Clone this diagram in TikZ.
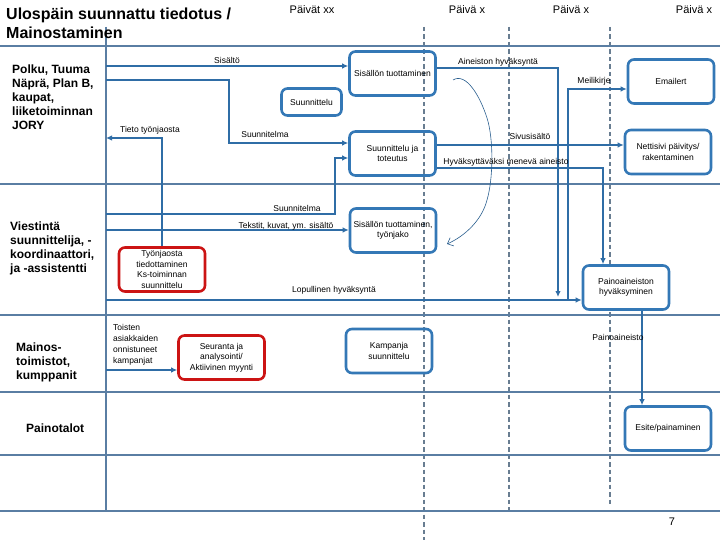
\documentclass[tikz,border=0pt]{standalone}
\usepackage{fontspec}
\setmainfont{Liberation Sans}
\usetikzlibrary{arrows.meta,calc}
\definecolor{laneblue}{HTML}{5A7EA3}
\definecolor{boxblue}{HTML}{3478B6}
\definecolor{connblue}{HTML}{2F6DA6}
\definecolor{dashgray}{HTML}{687D91}
\definecolor{boxred}{HTML}{CC1414}
\definecolor{curveblue}{HTML}{2A5F8F}
\begin{document}
\begin{tikzpicture}[x=1pt,y=-1pt,
  lane/.style={draw=laneblue,line width=1.6pt},
  dline/.style={draw=dashgray,line width=1.6pt,dash pattern=on 4.5pt off 3pt},
  box/.style={draw=boxblue,line width=2.6pt,rounded corners=6pt,minimum width=86pt,minimum height=44pt,inner sep=1pt,align=center,font=\fontsize{8.5}{10.5}\selectfont},
  rbox/.style={box,draw=boxred},
  conn/.style={draw=connblue,line width=1.5pt,-{Latex[length=6pt,width=5.5pt]}},
  lbl/.style={font=\fontsize{8.5}{11}\selectfont,inner sep=0pt},
  hdr/.style={font=\fontsize{11}{13}\selectfont,inner sep=0pt},
  lanelbl/.style={font=\fontsize{12}{14}\selectfont\bfseries,align=left,anchor=west,inner sep=0pt},
  titlelbl/.style={font=\fontsize{16}{19}\selectfont\bfseries,align=left,anchor=west,inner sep=0pt}
]
\useasboundingbox (0,0) rectangle (720,540);
\fill[white] (0,0) rectangle (720,540);

% dashed day separators
\draw[dline] (424,27) -- (424,540);
\draw[dline] (509,27) -- (509,512);
\draw[dline] (610,27) -- (610,507);

% lanes
\foreach \yy in {46,184,315,392,455,511} {\draw[lane] (0,\yy) -- (720,\yy);}
\draw[lane] (106,27) -- (106,511);

% titles and headers
\node[titlelbl] (title) at (6,23.5) {Ulospäin suunnattu tiedotus /\\Mainostaminen};
\node[hdr] (h1) at (312,10) {Päivät xx};
\node[hdr] (h2) at (467,10) {Päivä x};
\node[hdr] (h3) at (571,10) {Päivä x};
\node[hdr] (h4) at (694,10) {Päivä x};

\node[lanelbl] (lane1) at (12,97.5) {Polku, Tuuma\\Näprä, Plan B,\\kaupat,\\liiketoiminnan\\JORY};
\node[lanelbl] (lane2) at (10,248) {Viestintä\\suunnittelija, -\\koordinaattori,\\ja -assistentti};
\node[lanelbl] (lane3) at (16,362.5) {Mainos-\\toimistot,\\kumppanit};
\node[lanelbl] (lane4) at (26,428) {Painotalot};

% boxes
\node[box] (st1) at (392.5,73.5) {Sisällön tuottaminen};
\node[box,minimum width=60pt,minimum height=27pt] (suun) at (311.5,102) {Suunnittelu};
\node[box] (sjt) at (392.5,153.5) {Suunnittelu ja\\toteutus};
\node[box] (email) at (671,81.5) {Emailert};
\node[box] (netti) at (668,152) {Nettisivi päivitys/\\rakentaminen};
\node[box] (st2) at (393,230.5) {Sisällön tuottaminen,\\työnjako};
\node[rbox] (tyo) at (162,269.5) {Työnjaosta\\tiedottaminen\\Ks-toiminnan\\suunnittelu};
\node[box,fill=white] (paino) at (626,287.5) {Painoaineiston\\hyväksyminen};
\node[rbox] (seur) at (221.5,357.5) {Seuranta ja\\analysointi/\\Aktiivinen myynti};
\node[box] (kamp) at (389,351) {Kampanja\\suunnittelu};
\node[box] (esite) at (668,428.5) {Esite/painaminen};

% lane coordinates
\coordinate (L66) at (106,66);
\coordinate (L80) at (106,80);
\coordinate (L138) at (106,138);
\coordinate (L214) at (106,214);
\coordinate (L230) at (106,230);
\coordinate (L300) at (106,300);
\coordinate (L370) at (106,370);
\coordinate (b1) at (229,80);
\coordinate (b2) at (229,143);
\coordinate (b3) at (162,138);
\coordinate (b4) at (335,214);
\coordinate (b5) at (335,158);
\coordinate (b6) at (558,68);
\coordinate (e1) at (558,297);
\coordinate (b7) at (568,300);
\coordinate (b8) at (568,89);
\coordinate (b9) at (500,145);
\coordinate (b10) at (603,168);
\coordinate (b11) at (642,0);

% connectors
\draw[conn] (L66) -- (L66 -| st1.west);
\draw[conn] (L80) -- (b1) -- (b2) -- (b2 -| sjt.west);
\draw[conn] (tyo.north) -- (b3) -- (L138);
\draw[conn] (L214) -- (b4) -- (b5) -- (b5 -| sjt.west);
\draw[conn] (L230) -- (L230 -| st2.west);
\draw[conn] (L300) -- (L300 -| paino.west);
\draw[conn] (b6 -| st1.east) -- (b6) -- (e1);
\draw[conn] (b7) -- (b8) -- (b8 -| email.west);
\draw[conn] (b9 -| sjt.east) -- (b9 -| netti.west);
\draw[conn] (b10 -| sjt.east) -- (b10) -- (b10 |- paino.north);
\draw[conn] (b11 |- paino.south) -- (b11 |- esite.north);
\draw[conn] (L370) -- (L370 -| seur.west);

% freehand curve
\draw[curveblue,line width=0.6pt,-{Straight Barb[length=5pt,width=9pt]}]
  (453,80) .. controls (466,72) and (480,96) .. (487,118)
  .. controls (494,140) and (493,180) .. (487,200)
  .. controls (482,220) and (465,236) .. (447,244);

% labels
\node[lbl] (t1) at (227,60) {Sisältö};
\node[lbl] (t2) at (150,130) {Tieto työnjaosta};
\node[lbl] (t3) at (265,134) {Suunnitelma};
\node[lbl] (t4) at (498,62) {Aineiston hyväksyntä};
\node[lbl] (t5) at (594,81) {Meilikirje};
\node[lbl] (t6) at (530,136) {Sivusisältö};
\node[lbl] (t7) at (506,162) {Hyväksyttäväksi menevä aineisto};
\node[lbl] (t8) at (297,208) {Suunnitelma};
\node[lbl] (t9) at (286,226) {Tekstit, kuvat, ym. sisältö};
\node[lbl] (t10) at (334,290) {Lopullinen hyväksyntä};
\node[lbl,align=left,anchor=west] (t11) at (113,344.5) {Toisten\\asiakkaiden\\onnistuneet\\kampanjat};
\node[lbl] (t12) at (618,337) {Painoaineisto};
\node[hdr] (pg) at (672,522) {7};
\end{tikzpicture}
\end{document}
